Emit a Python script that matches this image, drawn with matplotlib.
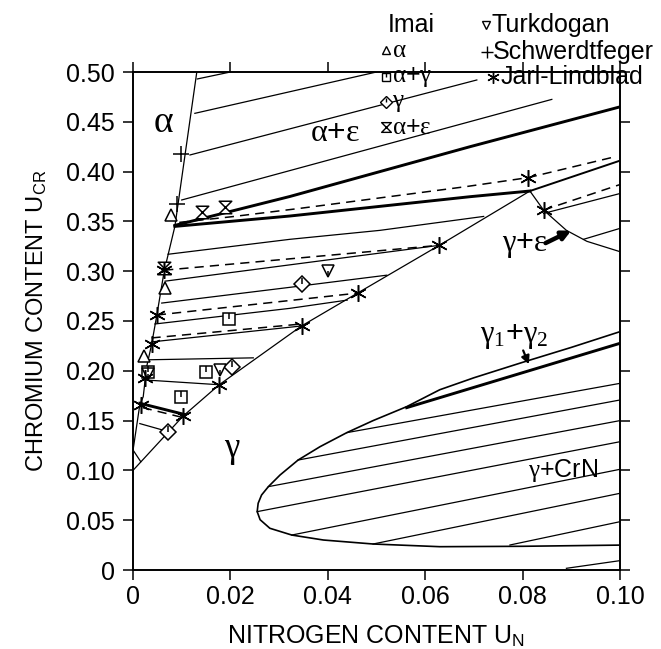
import matplotlib.pyplot as plt
from matplotlib.path import Path

plt.rcParams['font.family'] = ['Liberation Sans', 'DejaVu Sans']
# greek symbols upright, Times-like
plt.rcParams['mathtext.fontset'] = 'custom'
plt.rcParams['mathtext.rm'] = 'Liberation Serif'
plt.rcParams['mathtext.it'] = 'Liberation Serif:italic'
plt.rcParams['mathtext.default'] = 'rm'

# phase boundaries (U_N, U_Cr)
alpha_x = [0.0, 0.0014, 0.0021, 0.0028, 0.0038, 0.0049, 0.0064, 0.0086, 0.0131]
alpha_y = [0.120, 0.166, 0.174, 0.204, 0.226, 0.256, 0.300, 0.345, 0.500]

gamma_x = [0.0, 0.0103, 0.0177, 0.0346, 0.0461, 0.0629, 0.0815]
gamma_y = [0.100, 0.1546, 0.186, 0.245, 0.278, 0.326, 0.3805]

ge_x = [0.0815, 0.0843, 0.0890, 0.0932, 0.100]
ge_y = [0.3805, 0.3614, 0.341, 0.330, 0.3196]

# alpha+gamma+epsilon triangle
ae_x = [0.0086, 0.0322, 0.0692, 0.100]
ae_y = [0.346, 0.375, 0.425, 0.465]
ag_x = [0.0086, 0.0322, 0.0692, 0.0815]
ag_y = [0.345, 0.3554, 0.3748, 0.3805]
gel_x = [0.0815, 0.100]
gel_y = [0.3805, 0.411]
jl_tri_x = [0.0095, 0.0203, 0.0343, 0.0682, 0.0812, 0.0993]
jl_tri_y = [0.349, 0.3547, 0.3631, 0.3848, 0.394, 0.4153]

# tie lines, alpha+epsilon
ae_ties = [
    ([0.0132, 0.0200], [0.493, 0.500]),
    ([0.0127, 0.0500], [0.4585, 0.500]),
    ([0.0117, 0.0706], [0.4167, 0.492]),
    ([0.0100, 0.0860], [0.3715, 0.4725]),
]

# tie lines, alpha+gamma (solid = calculated, dashed = Jarl-Lindblad)
ag_ties = [
    ([0.0072, 0.0322, 0.0507, 0.0720], [0.317, 0.332, 0.341, 0.355]),
    ([0.0066, 0.0629], [0.290, 0.326]),
    ([0.0059, 0.0322, 0.0521], [0.268, 0.2838, 0.296]),
    ([0.0045, 0.0322, 0.0440], [0.247, 0.2627, 0.271]),
    ([0.0038, 0.0346], [0.229, 0.245]),
    ([0.0025, 0.0247], [0.211, 0.213]),
    ([0.0025, 0.0177], [0.1908, 0.186]),
    ([0.0014, 0.0072], [0.147, 0.139]),
    ([0.0, 0.0016], [0.1205, 0.1087]),
]
ag_ties_thick = [([0.0014, 0.0107], [0.1674, 0.156])]
jl_ties = [
    ([0.0064, 0.0629], [0.301, 0.326]),
    ([0.0049, 0.0461], [0.256, 0.278]),
    ([0.0038, 0.0346], [0.233, 0.247]),
    ([0.0020, 0.0103], [0.163, 0.153]),
]

# tie lines, gamma+epsilon
gewide_ties = [
    ([0.0843, 0.100], [0.358, 0.378]),
    ([0.0925, 0.100], [0.332, 0.343]),
]
ge_jl_x = [0.0843, 0.100]
ge_jl_y = [0.3614, 0.387]

# gamma+CrN boundary, lower branch -> nose -> upper branch
crn_x = [0.100, 0.080, 0.063, 0.0493, 0.0391, 0.0326, 0.0281, 0.0261, 0.0255,
         0.0257, 0.0264, 0.0278, 0.0302, 0.0339, 0.0384, 0.0439, 0.0493, 0.0562,
         0.063, 0.070, 0.080, 0.090, 0.100]
crn_y = [0.025, 0.0238, 0.0234, 0.0261, 0.0301, 0.0351, 0.0419, 0.0505, 0.0586,
         0.067, 0.0753, 0.0837, 0.0954, 0.1104, 0.1238, 0.1379, 0.150, 0.164,
         0.181, 0.193, 0.2085, 0.2235, 0.2393]
crn_ties = [
    ([0.0439, 0.100], [0.1379, 0.1874]),
    ([0.0339, 0.100], [0.1104, 0.1707]),
    ([0.0278, 0.100], [0.0837, 0.150]),
    ([0.0255, 0.100], [0.0586, 0.1288]),
    ([0.0326, 0.100], [0.0351, 0.1011]),
    ([0.0493, 0.100], [0.0261, 0.077]),
    ([0.0774, 0.100], [0.0251, 0.0485]),
    ([0.089, 0.100], [0.0017, 0.0094]),
]
g1g2_x = [0.0562, 0.100]
g1g2_y = [0.163, 0.2276]

# measured points
imai_a_x = [0.0079, 0.0066, 0.0023]
imai_a_y = [0.3564, 0.283, 0.2149]
imai_ag_x = [0.0197, 0.0149, 0.0031, 0.0099]
imai_ag_y = [0.2517, 0.199, 0.199, 0.1734]
imai_g_x = [0.0348, 0.0203, 0.0072]
imai_g_y = [0.287, 0.2035, 0.1388]
imai_ae_x = [0.0142, 0.0189, 0.0064]
imai_ae_y = [0.3597, 0.3648, 0.3029]
turk_x = [0.0401, 0.0179, 0.0031]
turk_y = [0.3002, 0.2008, 0.197]
schw_x = [0.0099, 0.0090]
schw_y = [0.4177, 0.3675]
jarl_x = [0.0064, 0.0049, 0.0038, 0.0025, 0.0016, 0.0103, 0.0177, 0.0346, 0.0461,
          0.0629, 0.0843, 0.0812]
jarl_y = [0.301, 0.256, 0.227, 0.1925, 0.1657, 0.1546, 0.186, 0.245, 0.278,
          0.326, 0.3614, 0.394]

hourglass = Path([(-1, 1), (1, 1), (-1, -1), (1, -1), (-1, 1)],
                 [Path.MOVETO, Path.LINETO, Path.LINETO, Path.LINETO, Path.CLOSEPOLY])
tick_up = Path([(0, 1), (0, 0)])
tick_down = Path([(0, 0), (0, -1)])
asterisk = (6, 2, 0)

fig = plt.figure(figsize=(6.61, 6.49), dpi=100)
ax = fig.add_axes([133 / 661, 1 - 570 / 649, 487 / 661, 498 / 649])

thin = dict(color='black', lw=0.9)
thick = dict(color='black', lw=2.1)
dash = dict(color='black', lw=1.1, ls=(0, (6, 4)))

ax.plot(alpha_x, alpha_y, **thin)
ax.plot(gamma_x, gamma_y, **thin)
ax.plot(ge_x, ge_y, **thin)
ax.plot(ae_x, ae_y, **thick)
ax.plot(ag_x, ag_y, **thick)
ax.plot(gel_x, gel_y, color='black', lw=1.4)
ax.plot(jl_tri_x, jl_tri_y, **dash)
for xs, ys in ae_ties + ag_ties + gewide_ties + crn_ties:
    ax.plot(xs, ys, **thin)
for xs, ys in ag_ties_thick:
    ax.plot(xs, ys, **thick)
for xs, ys in jl_ties:
    ax.plot(xs, ys, **dash)
ax.plot(ge_jl_x, ge_jl_y, **dash)
ax.plot(crn_x, crn_y, color='black', lw=1.2)
ax.plot(g1g2_x, g1g2_y, **thick)

mk = dict(ls='none', mfc='white', mec='black', mew=1.1, zorder=5)
tk = dict(ls='none', color='black', mew=1.1, zorder=6)
ax.plot(imai_a_x, imai_a_y, marker='^', ms=9, **mk)
ax.plot(imai_ag_x, imai_ag_y, marker='s', ms=9, **mk)
ax.plot(imai_ag_x, imai_ag_y, marker=tick_up, ms=9, **tk)
ax.plot(imai_g_x, imai_g_y, marker='D', ms=8, **mk)
ax.plot(imai_g_x, imai_g_y, marker=tick_up, ms=9, **tk)
ax.plot(imai_ae_x, imai_ae_y, marker=hourglass, ms=9, **mk)
ax.plot(turk_x, turk_y, marker='v', ms=9, **mk)
ax.plot(turk_x, turk_y, marker=tick_down, ms=9, **tk)
ax.plot(schw_x, schw_y, marker='+', ms=12, ls='none', color='black', mew=1.1, zorder=5)
ax.plot(jarl_x, jarl_y, marker=asterisk, ms=12, ls='none', color='black', mew=1.1, zorder=5)

# region labels
ax.text(0.0062, 0.45, r'$\alpha$', fontsize=27, ha='center', va='center')
ax.text(0.0415, 0.4385, r'$\alpha$+$\varepsilon$', fontsize=23, ha='center', va='center')
ax.text(0.0203, 0.12, r'$\gamma$', fontsize=25, ha='center', va='center')
ax.text(0.0805, 0.326, r'$\gamma$+$\varepsilon$', fontsize=22, ha='center', va='center')
ax.text(0.0782, 0.235, r'$\gamma_1$+$\gamma_2$', fontsize=22, ha='center', va='center')
ax.text(0.0883, 0.1004, r'$\gamma$+CrN', fontsize=18, ha='center', va='center')
ax.annotate('', xy=(0.0905, 0.342), xytext=(0.0842, 0.327),
            arrowprops=dict(arrowstyle='-|>', color='black', lw=3.2, mutation_scale=13))
ax.annotate('', xy=(0.0815, 0.204), xytext=(0.0799, 0.223),
            arrowprops=dict(arrowstyle='-|>', color='black', lw=1.6, mutation_scale=12))

ax.set_xlim(0, 0.1)
ax.set_ylim(0, 0.5)
ax.set_xticks([0, 0.02, 0.04, 0.06, 0.08, 0.10])
ax.set_xticklabels(['0', '0.02', '0.04', '0.06', '0.08', '0.10'])
ax.set_yticks([0, 0.05, 0.10, 0.15, 0.20, 0.25, 0.30, 0.35, 0.40, 0.45, 0.50])
ax.set_yticklabels(['0', '0.05', '0.10', '0.15', '0.20', '0.25', '0.30', '0.35',
                    '0.40', '0.45', '0.50'])
ax.tick_params(direction='out', top=True, right=True, length=7, width=1.1,
               labelsize=18)
ax.tick_params(axis='y', pad=6)
ax.tick_params(axis='x', pad=4)
for s in ax.spines.values():
    s.set_linewidth(1.4)
ax.set_xlabel(r'NITROGEN CONTENT U$_\mathregular{N}$', fontsize=18, labelpad=10)
ax.set_ylabel(r'CHROMIUM CONTENT U$_\mathregular{CR}$', fontsize=17, labelpad=12)

# legend drawn in figure pixels
W, H = 661, 649
def leg(px, py, marker, label, ms=7, tx=6, tick=None):
    y = 1 - py / H
    if marker is not None:
        fig.lines.append(plt.Line2D([px / W], [y], transform=fig.transFigure,
                                    marker=marker, ms=ms, mfc='white', mec='black',
                                    color='black', mew=1.0, ls='none'))
    if tick is not None:
        fig.lines.append(plt.Line2D([px / W], [y], transform=fig.transFigure,
                                    marker=tick, ms=ms, color='black', mew=1.0, ls='none'))
    fig.text((px + tx) / W, y, label, fontsize=18, va='center', ha='left')

fig.text(388 / W, 1 - 25 / H, 'Imai', fontsize=18, va='center', ha='left')
leg(386, 50, '^', r'$\alpha$', ms=6)
leg(386, 77, 's', r'$\alpha$+$\gamma$', ms=6, tick=tick_up)
leg(386, 102, 'D', r'$\gamma$', ms=6, tick=tick_up)
leg(386, 127, hourglass, r'$\alpha$+$\varepsilon$', ms=7)
leg(486, 25, 'v', 'Turkdogan', ms=6)
leg(487, 52, '+', 'Schwerdtfeger', ms=9, tx=6)
leg(493, 77, asterisk, 'Jarl-Lindblad', ms=9, tx=8)

fig.savefig('out.png', dpi=100)
